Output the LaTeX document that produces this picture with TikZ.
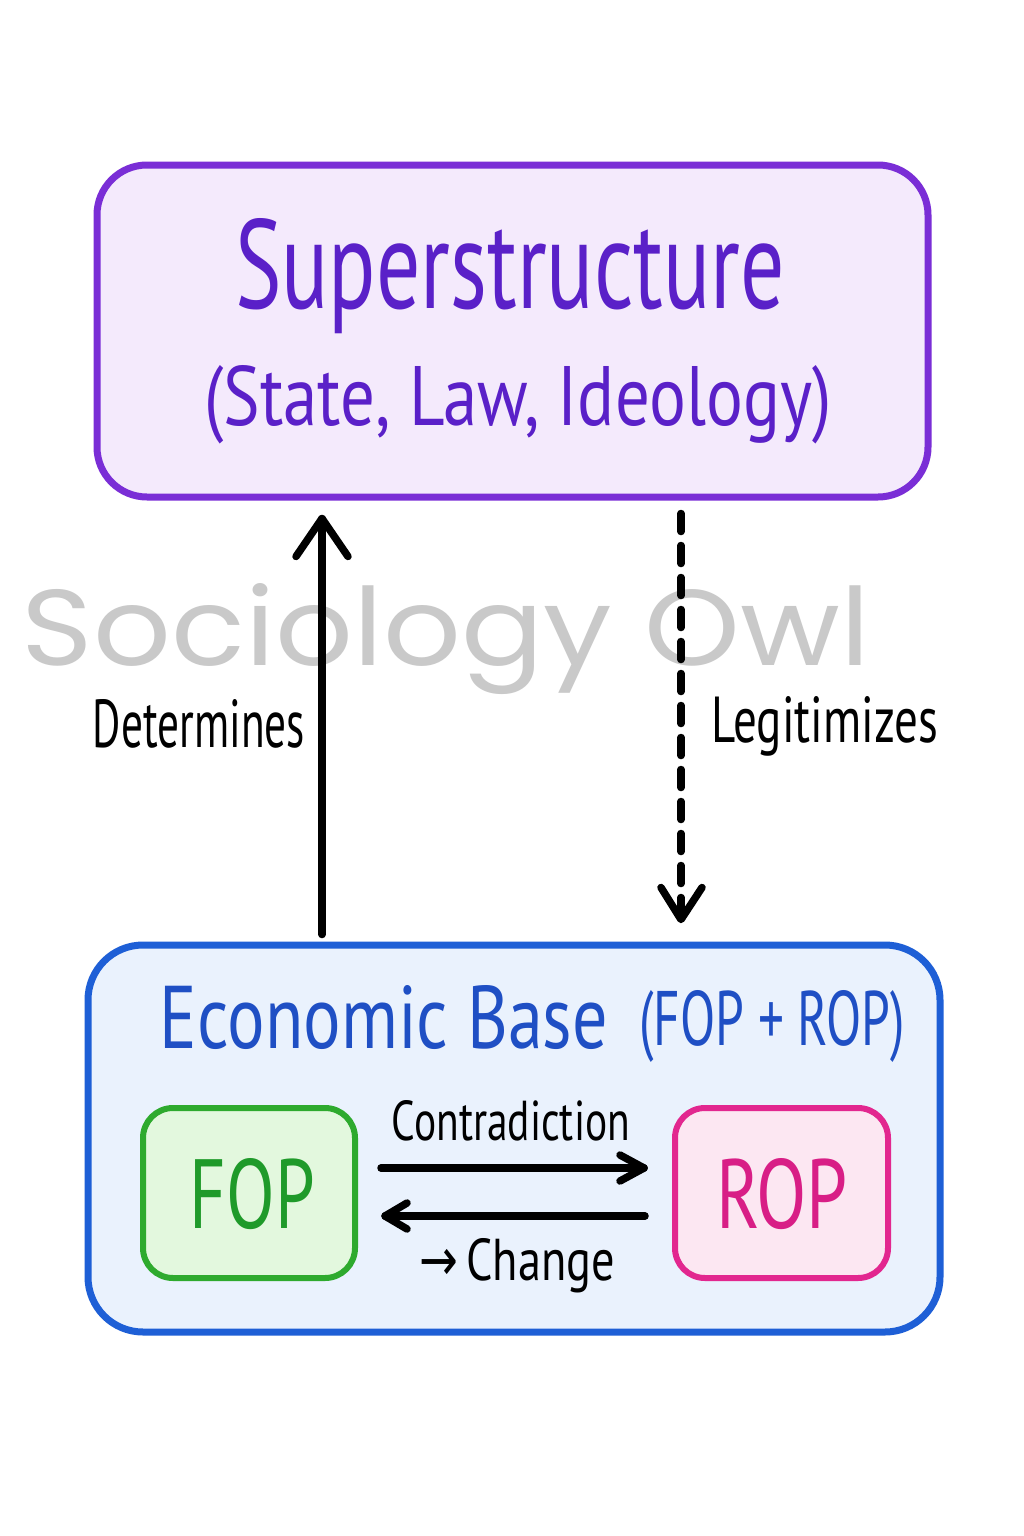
\documentclass[tikz,border=0pt]{standalone}
\usepackage{fontspec}
\usepackage{graphicx}
\setmainfont{PT Sans}
\newfontfamily\wmfont{Poppins}
\newfontfamily\symfont{DejaVu Sans}
\usetikzlibrary{calc}
\definecolor{supLine}{HTML}{7A2ED6}
\definecolor{supFill}{HTML}{F4EAFC}
\definecolor{supText}{HTML}{5A20C8}
\definecolor{baseLine}{HTML}{1E5FD6}
\definecolor{baseFill}{HTML}{EAF2FD}
\definecolor{baseText}{HTML}{1F4FC4}
\definecolor{fopLine}{HTML}{2EAA2E}
\definecolor{fopFill}{HTML}{E3F8DE}
\definecolor{fopText}{HTML}{1F9A2A}
\definecolor{ropLine}{HTML}{E2278F}
\definecolor{ropFill}{HTML}{FCE7F2}
\definecolor{ropText}{HTML}{D81E86}
\definecolor{wmGray}{HTML}{C9C9C9}
\newcommand{\fitbox}[3]{\resizebox{#1pt}{#2pt}{#3}}
\tikzset{
  bigbox/.style={draw, line width=7pt, rounded corners=50pt, inner sep=0pt},
  smallbox/.style={draw, line width=6pt, rounded corners=30pt, inner sep=0pt},
  lbl/.style={anchor=base, inner sep=0pt},
  arr/.style={line width=7.5pt, line cap=round, line join=round}
}
\begin{document}
\begin{tikzpicture}[x=1pt, y=-1pt]
\useasboundingbox (0,0) rectangle (1024,1536);
\fill[white] (0,0) rectangle (1024,1536);
% watermark
\node[lbl, text=wmGray] (wm) at (446,665) {\fitbox{848}{82}{\wmfont Sociology Owl}};
% boxes
\node[bigbox, draw=supLine, fill=supFill, minimum width=831pt, minimum height=332pt] (super) at (512.5,331) {};
\node[bigbox, draw=baseLine, fill=baseFill, rounded corners=55pt, minimum width=852pt, minimum height=387pt] (base) at (514,1138.5) {};
\node[smallbox, draw=fopLine, fill=fopFill, minimum width=212pt, minimum height=170pt] (fop) at (249,1193) {};
\node[smallbox, draw=ropLine, fill=ropFill, minimum width=213pt, minimum height=170pt] (rop) at (781.5,1193) {};
% texts
\node[lbl, text=supText] (t1) at (510,308) {\fitbox{550}{90}{Superstructure}};
\node[lbl, text=supText] (t2) at (518,425) {\fitbox{627}{60}{(State, Law, Ideology)}};
\node[lbl, text=baseText] (t3) at (384,1048) {\fitbox{448}{63}{Economic Base}};
\node[lbl, text=baseText] (t4) at (772,1045) {\fitbox{265}{55}{(FOP + ROP)}};
\node[lbl, text=fopText] (t5) at (252.5,1228) {\fitbox{125}{70}{FOP}};
\node[lbl, text=ropText] (t6) at (782,1228) {\fitbox{132}{70}{ROP}};
\node[lbl] (det) at (199,747) {\fitbox{212}{48}{Determines}};
\node[lbl] (leg) at (825,742) {\fitbox{226}{46}{Legitimizes}};
\node[lbl] (con) at (511,1140) {\fitbox{238}{40}{Contradiction}};
\node[lbl] (chg) at (517.5,1280) {\fitbox{195}{42}{{\symfont →}\,Change}};
% connectors
\coordinate (upx) at (322,700);
\coordinate (dnx) at (681,700);
\coordinate (r1) at (500,1168);
\coordinate (r2) at (500,1216);
\coordinate (upS) at ($(base.north -| upx)+(0,-7)$);
\coordinate (upT) at ($(super.south -| upx)+(0,18)$);
\coordinate (dnS) at ($(super.south -| dnx)+(0,13)$);
\coordinate (dnT) at ($(base.north -| dnx)+(0,-22)$);
\coordinate (rtS) at ($(fop.east |- r1)+(23,0)$);
\coordinate (rtT) at ($(rop.west |- r1)+(-28,0)$);
\coordinate (ltS) at ($(rop.west |- r2)+(-27,0)$);
\coordinate (ltT) at ($(fop.east |- r2)+(27,0)$);
\draw[arr] (upS) -- (upT);
\draw[arr] ($(upT)+(-26,38)$) -- (upT) -- ($(upT)+(26,38)$);
\draw[arr, dash pattern=on 18pt off 14pt] (dnS) -- ($(dnT)+(0,-4)$);
\draw[arr] ($(dnT)+(-20,-32)$) -- (dnT) -- ($(dnT)+(21,-32)$);
\draw[arr] (rtS) -- (rtT);
\draw[arr] ($(rtT)+(-24,-13)$) -- (rtT) -- ($(rtT)+(-24,13)$);
\draw[arr] (ltS) -- (ltT);
\draw[arr] ($(ltT)+(22,-13)$) -- (ltT) -- ($(ltT)+(22,13)$);
\end{tikzpicture}
\end{document}
